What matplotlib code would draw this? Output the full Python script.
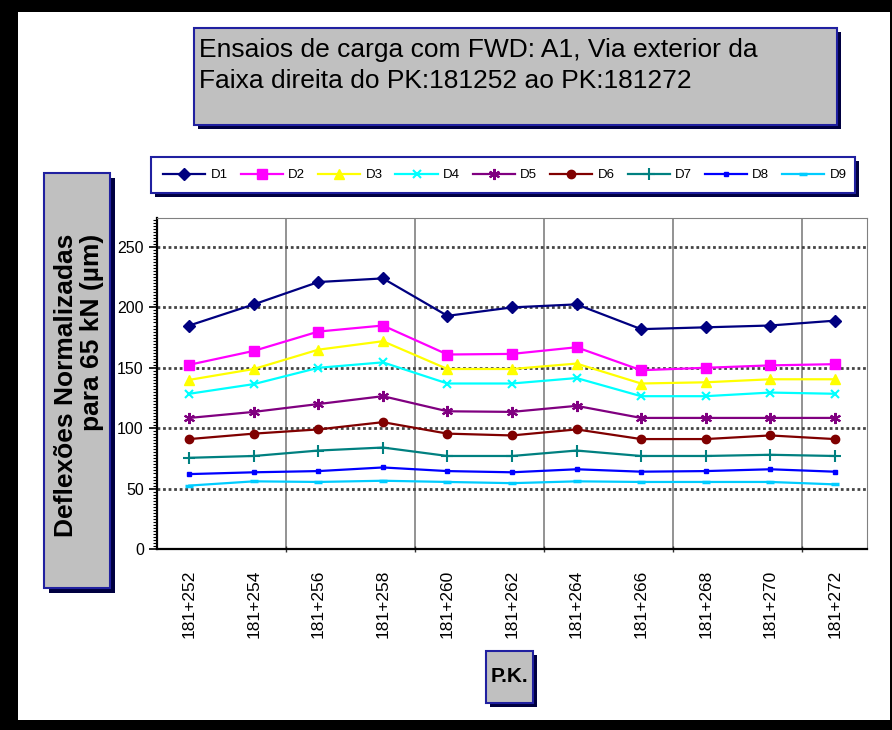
import matplotlib
matplotlib.use('Agg')
import matplotlib.pyplot as plt
from matplotlib.patches import Rectangle
from matplotlib.ticker import MultipleLocator, FixedLocator
import numpy as np

# ---- data ----
pk_labels = ['181+252', '181+254', '181+256', '181+258', '181+260', '181+262',
             '181+264', '181+266', '181+268', '181+270', '181+272']
D1 = [185, 202.5, 221, 224, 193, 200, 202.5, 182, 183.5, 185, 189]
D2 = [152.5, 164, 180, 185, 161, 161.5, 167, 148, 150, 152, 153]
D3 = [140, 149, 165, 172, 149, 149, 153.5, 137, 138, 140.5, 140.5]
D4 = [128.5, 136.5, 150, 154.5, 137, 137, 141.5, 126.5, 126.5, 129.5, 128.5]
D5 = [108.5, 113.5, 120, 126.5, 114, 113.5, 118.5, 108.5, 108.5, 108.5, 108.5]
D6 = [91, 95.5, 99, 105, 95.5, 94, 99, 91, 91, 94, 91]
D7 = [75.5, 77, 81.5, 84, 77, 77, 81.5, 77, 77, 78, 77]
D8 = [62, 63.5, 64.5, 67.5, 64.5, 63.5, 66, 64, 64.5, 66, 64]
D9 = [52.5, 56, 55.5, 56.5, 55.5, 54.5, 56, 55.5, 55.5, 55.5, 53.5]
series_names = ['D1', 'D2', 'D3', 'D4', 'D5', 'D6', 'D7', 'D8', 'D9']
series_vals = [D1, D2, D3, D4, D5, D6, D7, D8, D9]

# excel-ish series styles
styles = [
    dict(color='#000080', marker='D', ms=6),
    dict(color='#FF00FF', marker='s', ms=6.5),
    dict(color='#FFFF00', marker='^', ms=7),
    dict(color='#00FFFF', marker='x', ms=6, mew=1.5),
    dict(color='#800080', marker=(6, 2, 0), ms=8, mew=1.5),
    dict(color='#800000', marker='o', ms=6),
    dict(color='#008080', marker='+', ms=8, mew=1.5),
    dict(color='#0000FF', marker='s', ms=3.5),
    dict(color='#00CCFF', marker='_', ms=6, mew=2.5),
]

W, H = 892, 730
SANS = ['Liberation Sans', 'DejaVu Sans']

def fx(x):
    return x / W

def fy(y):
    return 1 - y / H

fig = plt.figure(figsize=(W / 100, H / 100), dpi=100, facecolor='white')

# background canvas in pixel coords (origin top-left): sheet, black frame, boxes
bg = fig.add_axes([0, 0, 1, 1], zorder=-1)
bg.set_xlim(0, W)
bg.set_ylim(H, 0)
bg.set_xticks([])
bg.set_yticks([])
for sp in bg.spines.values():
    sp.set_visible(False)
bg.set_facecolor('white')

def rect(x0, y0, x1, y1, face, edge='none', lw=0, z=1):
    bg.add_patch(Rectangle((x0, y0), x1 - x0, y1 - y0, facecolor=face,
                           edgecolor=edge, linewidth=lw, zorder=z))

def box(x0, y0, x1, y1, face, edge='#2020A0', shadow='#000040', off=4, lw=1.5):
    rect(x0 + off, y0 + off, x1 + off, y1 + off, shadow, z=2)
    rect(x0, y0, x1, y1, face, edge=edge, lw=lw, z=3)

# black frame: left, top, right, bottom strips
rect(0, 0, 18, H, 'black')
rect(0, 0, W, 12, 'black')
rect(890, 0, W, H, 'black')
rect(0, 720, W, H, 'black')

# ---- title box ----
box(194, 28, 837, 125, '#C0C0C0')
fig.text(fx(199), fy(57), 'Ensaios de carga com FWD: A1, Via exterior da',
         family=SANS, fontsize=19, va='baseline', ha='left', zorder=5)
fig.text(fx(199), fy(88), 'Faixa direita do PK:181252 ao PK:181272',
         family=SANS, fontsize=19, va='baseline', ha='left', zorder=5)

# ---- y label box ----
box(44, 173, 110, 588, '#C0C0C0', off=5)
fig.text(fx(79), fy(385), 'Deflexões Normalizadas\npara 65 kN (µm)', rotation=90,
         family=SANS, fontsize=19, fontweight='bold', ha='center', va='center',
         multialignment='right', linespacing=1.1, zorder=5)

# ---- P.K. box ----
box(486, 651, 533, 703, '#C0C0C0')
fig.text(fx(509.5), fy(677), 'P.K.', family=SANS, fontsize=15, fontweight='bold',
         ha='center', va='center', zorder=5)

# ---- legend box ----
box(151, 157, 855, 193, 'white', off=4)

# ---- plot area ----
ax = fig.add_axes([fx(157), fy(549), (867 - 157) / W, (549 - 218) / H], zorder=1)
ax.set_facecolor('white')
x = np.arange(len(pk_labels))
handles = []
for name, vals, st in zip(series_names, series_vals, styles):
    h, = ax.plot(x, vals, color=st['color'], marker=st['marker'], ms=st['ms'],
                 mew=st.get('mew', 1), lw=1.6, label=name, zorder=3)
    handles.append(h)

ax.set_xlim(-0.5, len(pk_labels) - 0.5)
ax.set_ylim(0, 274)
ax.set_xticks(x)
ax.set_xticklabels(pk_labels, rotation=90, family=SANS, fontsize=12.5)
ax.tick_params(axis='x', which='major', length=0, pad=15)
ax.xaxis.set_minor_locator(FixedLocator([1.5, 3.5, 5.5, 7.5, 9.5]))
ax.tick_params(axis='x', which='minor', length=5, direction='inout', width=1, color='#333333')
ax.grid(axis='x', which='minor', color='#808080', lw=1.2, linestyle='-')

ax.yaxis.set_major_locator(MultipleLocator(50))
ax.yaxis.set_minor_locator(MultipleLocator(2.5))
ax.tick_params(axis='y', which='major', length=6, width=1.2, labelsize=11.5)
ax.tick_params(axis='y', which='minor', length=3, width=0.8)
for lab in ax.get_yticklabels():
    lab.set_family(SANS)
ax.grid(axis='y', which='major', color='#444444', lw=2, linestyle=(0, (1, 1)))
ax.set_axisbelow(True)

ax.spines['left'].set_linewidth(1.6)
ax.spines['bottom'].set_linewidth(1.6)
ax.spines['top'].set_color('#808080')
ax.spines['right'].set_color('#808080')

# ---- legend ----
fig.legend(handles, series_names, loc='center',
           bbox_to_anchor=(fx(158), fy(192), (852 - 158) / W, (192 - 158) / H),
           mode='expand', ncol=9, frameon=False, handlelength=3.2, handletextpad=0.4,
           borderaxespad=0, prop={'family': SANS, 'size': 9.5})

fig.savefig('out.png', dpi=100, facecolor='white')
